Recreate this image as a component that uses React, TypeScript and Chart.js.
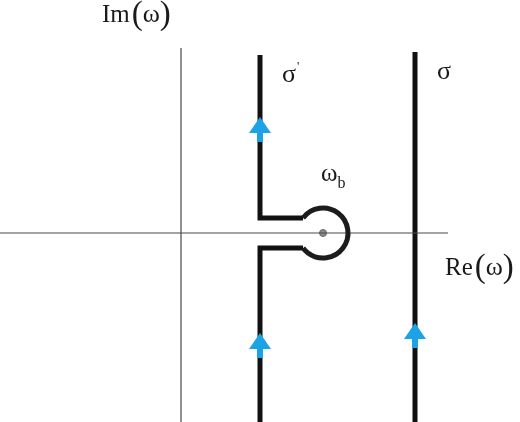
import { useEffect, useRef } from "react";
import { Chart, registerables, Plugin } from "chart.js";

Chart.register(...registerables);

// axes of the complex plane (origin at the crossing)
const reAxis = [{ x: -181, y: 0 }, { x: 267, y: 0 }];
const imAxis = [{ x: 0, y: 185 }, { x: 0, y: -189 }];

// deformed contour sigma' around the branch point
const sigmaPrimeUpper = [{ x: 79, y: 178 }, { x: 79, y: 15 }, { x: 122, y: 15 }];
const sigmaPrimeLower = [{ x: 122, y: -15 }, { x: 79, y: -15 }, { x: 79, y: -189 }];
const branchPoint = { x: 142, y: 0 };
const branchRadius = 25;

// original contour sigma
const sigmaLine = [{ x: 234, y: 181 }, { x: 234, y: -189 }];

// arrow tips pointing upwards
const arrowTips = [{ x: 79, y: 116 }, { x: 79, y: -100 }, { x: 234, y: -90 }];

const X_MIN = -181;
const X_MAX = 339;
const Y_MIN = -189;
const Y_MAX = 233;

type Part = { t: string; size: number; dy?: number; dx?: number };
type Label = { x: number; y: number; parts: Part[] };

const labels: Label[] = [
  { x: -79, y: 211, parts: [{ t: "Im", size: 25 }, { t: "(", size: 33, dy: 2, dx: 2 }, { t: "ω", size: 26 }, { t: ")", size: 33, dy: 2 }] },
  { x: 264, y: -42, parts: [{ t: "Re", size: 25 }, { t: "(", size: 33, dy: 2, dx: 2 }, { t: "ω", size: 26 }, { t: ")", size: 33, dy: 2 }] },
  { x: 101, y: 151, parts: [{ t: "σ", size: 26 }, { t: "'", size: 13, dy: -12, dx: 1 }] },
  { x: 256, y: 154, parts: [{ t: "σ", size: 26 }] },
  { x: 140, y: 52, parts: [{ t: "ω", size: 25 }, { t: "b", size: 16, dy: 7 }] },
];

const overlay: Plugin<"scatter"> = {
  id: "contourOverlay",
  afterDatasetsDraw(chart) {
    const ctx = chart.ctx;
    const xs = chart.scales.x;
    const ys = chart.scales.y;

    // circle around the branch point
    const cx = xs.getPixelForValue(branchPoint.x);
    const cy = ys.getPixelForValue(branchPoint.y);
    const r = xs.getPixelForValue(branchPoint.x + branchRadius) - cx;
    const a0 = Math.atan2(ys.getPixelForValue(sigmaPrimeUpper[2].y) - cy, xs.getPixelForValue(sigmaPrimeUpper[2].x) - cx);
    const a1 = Math.atan2(ys.getPixelForValue(sigmaPrimeLower[0].y) - cy, xs.getPixelForValue(sigmaPrimeLower[0].x) - cx);
    ctx.save();
    ctx.strokeStyle = "#1c1c1c";
    ctx.lineWidth = 5;
    ctx.beginPath();
    ctx.arc(cx, cy, r, a0, a1, false);
    ctx.stroke();

    // blue arrows
    ctx.fillStyle = "#1ba3e6";
    arrowTips.forEach((p) => {
      const px = xs.getPixelForValue(p.x);
      const py = ys.getPixelForValue(p.y);
      ctx.beginPath();
      ctx.moveTo(px, py);
      ctx.lineTo(px + 11, py + 16);
      ctx.lineTo(px + 3, py + 16);
      ctx.lineTo(px + 3, py + 25);
      ctx.lineTo(px - 3, py + 25);
      ctx.lineTo(px - 3, py + 16);
      ctx.lineTo(px - 11, py + 16);
      ctx.closePath();
      ctx.fill();
    });

    // labels
    ctx.fillStyle = "#1a1a1a";
    ctx.textBaseline = "alphabetic";
    ctx.textAlign = "left";
    labels.forEach((l) => {
      let px = xs.getPixelForValue(l.x);
      const py = ys.getPixelForValue(l.y);
      l.parts.forEach((part) => {
        ctx.font = `${part.size}px "Liberation Serif", "DejaVu Serif", serif`;
        px += part.dx ?? 0;
        ctx.fillText(part.t, px, py + (part.dy ?? 0));
        px += ctx.measureText(part.t).width;
      });
    });
    ctx.restore();
  },
};

export default function App() {
  const canvasRef = useRef<HTMLCanvasElement>(null);
  const chartRef = useRef<Chart<"scatter"> | null>(null);

  useEffect(() => {
    document.body.style.margin = "0";
    if (!canvasRef.current) return;
    if (chartRef.current) chartRef.current.destroy();

    const thin = { showLine: true, borderColor: "#4a4a4a", borderWidth: 1.2, pointRadius: 0 };
    const thick = { showLine: true, borderColor: "#111111", borderWidth: 5, pointRadius: 0, borderJoinStyle: "miter" as const };

    chartRef.current = new Chart(canvasRef.current, {
      type: "scatter",
      data: {
        datasets: [
          { ...thin, data: reAxis },
          { ...thin, data: imAxis },
          { ...thick, data: sigmaPrimeUpper },
          { ...thick, data: sigmaPrimeLower },
          { ...thick, data: sigmaLine },
          {
            data: [branchPoint],
            pointRadius: 3.5,
            backgroundColor: "#8a8a8a",
            borderColor: "#6a6a6a",
            borderWidth: 1,
          },
        ],
      },
      options: {
        responsive: false,
        animation: false,
        clip: false,
        layout: { padding: 0, autoPadding: false },
        plugins: { legend: { display: false }, tooltip: { enabled: false } },
        scales: {
          x: { type: "linear", min: X_MIN, max: X_MAX, display: false },
          y: { type: "linear", min: Y_MIN, max: Y_MAX, display: false },
        },
      },
      plugins: [overlay],
    });

    return () => {
      if (chartRef.current) {
        chartRef.current.destroy();
        chartRef.current = null;
      }
    };
  }, []);

  return (
    <div style={{ width: 520, height: 422, background: "#fff" }}>
      <canvas ref={canvasRef} width={520} height={422}></canvas>
    </div>
  );
}
